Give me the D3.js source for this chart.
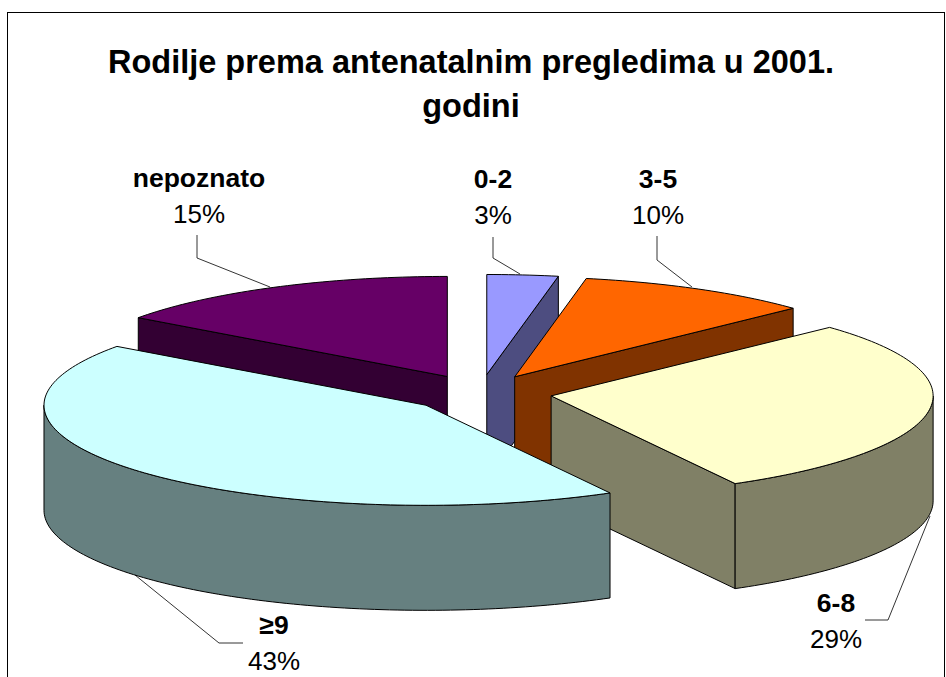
<!DOCTYPE html>
<html>
<head>
<meta charset="utf-8">
<title>Rodilje prema antenatalnim pregledima</title>
<script src="https://cdn.jsdelivr.net/npm/d3@7"></script>
<style>
html, body { margin: 0; padding: 0; background: #fff; overflow: hidden; }
svg { display: block; }
text { font-family: "Liberation Sans", Arial, sans-serif; fill: #000; }
</style>
</head>
<body>
<div id="chart-area"></div>
<script>
// Data
var categories = ["0-2", "3-5", "6-8", "\u22659", "nepoznato"];
var shares = [3, 10, 29, 43, 15];
var titleLines = ["Rodilje prema antenatalnim pregledima u 2001.", "godini"];

// Colours: top face and side wall per slice
var topColors = ["#9999ff", "#ff6600", "#ffffcc", "#ccffff", "#660066"];
var sideColors = ["#4d4d80", "#803300", "#808066", "#668080", "#330033"];

// Label layout
var labelX = [493, 658, 836, 274, 199];
var labelY = [188, 188, 612, 634, 187];
var leaders = [
    [[493, 237], [493, 258], [520, 274]],
    [[657, 236], [657, 260], [692, 287]],
    [[865, 620], [888, 620], [930, 516]],
    [[243, 643], [219, 643], [135, 575]],
    [[197, 235], [197, 258], [270, 287]]
];

var width = 946, height = 677;

// Pie geometry: ellipse in screen space, walls are a constant drop
var cx = 480, cy = 393, radius = 382, tilt = 0.262,
    explodeX = 72, explodeY = 18.5, wall = 105;

var svg = d3.select("#chart-area")
    .append("svg")
        .attr("width", width)
        .attr("height", height);

// Chart frame
svg.append("rect")
    .attr("x", 7.5)
    .attr("y", 12.5)
    .attr("width", 937)
    .attr("height", 700)
    .attr("fill", "#fff")
    .attr("stroke", "#000")
    .attr("stroke-width", 1);

// Title
svg.selectAll(".title")
    .data(titleLines)
    .enter().append("text")
        .attr("class", "title")
        .attr("x", 471)
        .attr("y", function(d, i){ return 73 + i * 44; })
        .attr("text-anchor", "middle")
        .attr("font-size", "32.5px")
        .attr("font-weight", "bold")
        .text(function(d){ return d; });

var slices = d3.pie().sort(null)(shares);
slices.forEach(function(s, i){
    s.index = i;
    s.mid = (s.startAngle + s.endAngle) / 2;
    s.ox = cx + explodeX * Math.sin(s.mid);
    s.oy = cy - explodeY * Math.cos(s.mid);
});

// Project polar position of a slice to the screen
function project(s, angle, r, drop) {
    return [
        s.ox + r * Math.sin(angle),
        s.oy - r * tilt * Math.cos(angle) + drop
    ];
}

function arcPoints(s, a0, a1, drop) {
    var n = Math.max(2, Math.ceil((a1 - a0) / 0.02));
    return d3.range(n + 1).map(function(k){
        return project(s, a0 + (a1 - a0) * k / n, radius, drop);
    });
}

var line = d3.line();

function drawFace(points, fill) {
    svg.append("path")
        .attr("d", line(points) + "Z")
        .attr("fill", fill)
        .attr("stroke", "#000")
        .attr("stroke-width", 1)
        .attr("stroke-linejoin", "round");
}

// Radial wall from the slice point to the rim
function radialWall(s, angle) {
    return [
        project(s, angle, 0, 0),
        project(s, angle, radius, 0),
        project(s, angle, radius, wall),
        project(s, angle, 0, wall)
    ];
}

// Back slices first, then the front ones over them
[4, 0, 1, 2, 3].forEach(function(i){
    var s = slices[i];

    // start edge faces the viewer on the left half, end edge on the right half
    if (Math.sin(s.startAngle) < -1e-6) {
        drawFace(radialWall(s, s.startAngle), sideColors[i]);
    }
    if (Math.sin(s.endAngle) > 1e-6) {
        drawFace(radialWall(s, s.endAngle), sideColors[i]);
    }

    // Outer wall, front half of the ellipse only
    var a0 = Math.max(s.startAngle, Math.PI / 2),
        a1 = Math.min(s.endAngle, Math.PI * 1.5);
    if (a1 > a0) {
        drawFace(arcPoints(s, a0, a1, 0).concat(arcPoints(s, a0, a1, wall).reverse()), sideColors[i]);
    }

    // Top face
    drawFace([project(s, 0, 0, 0)].concat(arcPoints(s, s.startAngle, s.endAngle, 0)), topColors[i]);
});

// Leader lines
svg.selectAll(".leader")
    .data(leaders)
    .enter().append("path")
        .attr("class", "leader")
        .attr("d", line)
        .attr("fill", "none")
        .attr("stroke", "#000")
        .attr("stroke-width", 0.8);

// Labels
var labels = svg.selectAll(".label")
    .data(categories)
    .enter().append("g")
        .attr("class", "label")
        .attr("transform", function(d, i){
            return "translate(" + labelX[i] + "," + labelY[i] + ")";
        });

labels.append("text")
    .attr("text-anchor", "middle")
    .attr("font-size", "26.5px")
    .attr("font-weight", "bold")
    .text(function(d){ return d; });

labels.append("text")
    .attr("y", 36)
    .attr("text-anchor", "middle")
    .attr("font-size", "26px")
    .text(function(d, i){ return shares[i] + "%"; });
</script>
</body>
</html>
